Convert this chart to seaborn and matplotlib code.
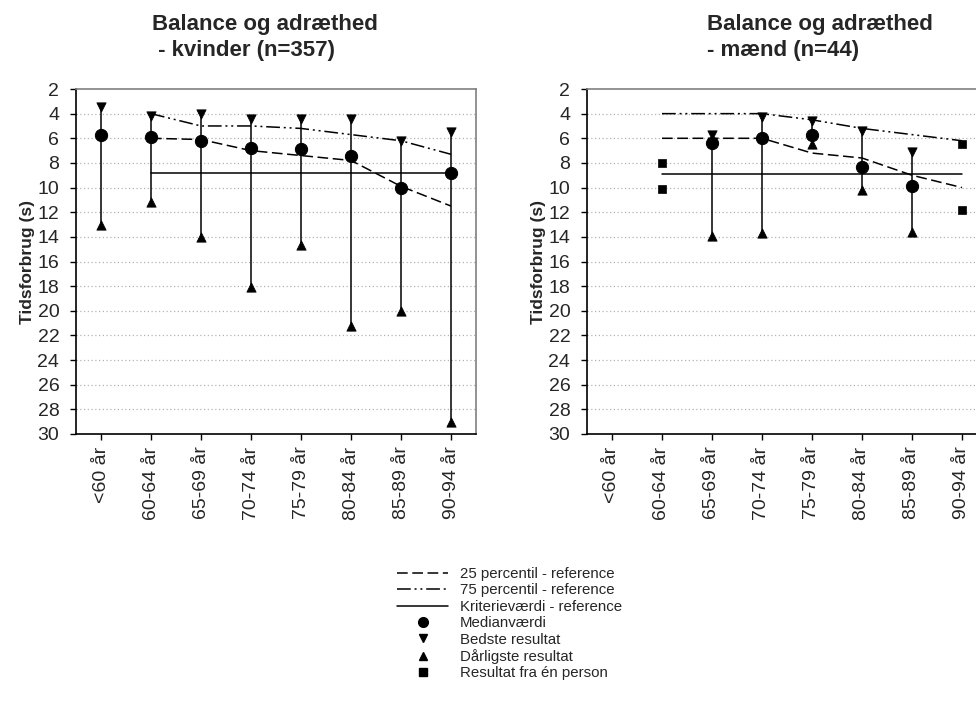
import numpy as np
import pandas as pd
import matplotlib
matplotlib.use("Agg")
import matplotlib.pyplot as plt
from matplotlib.lines import Line2D
import seaborn as sns

# Age groups on the x axis
categories = ["<60 år", "60-64 år", "65-69 år", "70-74 år",
              "75-79 år", "80-84 år", "85-89 år", "90-94 år"]
nan = np.nan

# Women (n=357), time in seconds
w_best = [3.5, 4.2, 4.0, 4.4, 4.4, 4.4, 6.2, 5.5]
w_median = [5.7, 5.9, 6.2, 6.8, 6.9, 7.4, 10.0, 8.8]
w_worst = [13.0, 11.2, 14.0, 18.1, 14.7, 21.2, 20.0, 29.0]
w_p25 = [nan, 6.0, 6.1, 7.0, 7.4, 7.8, 9.9, 11.5]
w_p75 = [nan, 4.0, 5.0, 5.0, 5.2, 5.7, 6.2, 7.3]
w_crit = [nan, 8.8, 8.8, 8.8, 8.8, 8.8, 8.8, 8.8]

# Men (n=44), time in seconds
m_best = [nan, nan, 5.7, 4.3, 4.6, 5.4, 7.1, nan]
m_median = [nan, nan, 6.4, 6.0, 5.7, 8.3, 9.9, nan]
m_worst = [nan, nan, 13.9, 13.7, 6.5, 10.2, 13.6, nan]
m_single_a = [nan, 8.0, nan, nan, nan, nan, nan, 6.5]
m_single_b = [nan, 10.1, nan, nan, nan, nan, nan, 11.8]
m_p25 = [nan, 6.0, 6.0, 6.0, 7.2, 7.6, 9.0, 10.0]
m_p75 = [nan, 4.0, 4.0, 4.0, 4.5, 5.2, 5.7, 6.2]
m_crit = [nan, 8.9, 8.9, 8.9, 8.9, 8.9, 8.9, 8.9]

y_ticks = list(range(2, 32, 2))

sns.set_theme(style="white")
plt.rcParams["font.family"] = ["Liberation Sans", "DejaVu Sans"]

DASH_25 = (7, 3)
DASH_75 = (9, 2.5, 1.3, 2.5, 1.3, 2.5)

W, H = 976, 705
fig = plt.figure(figsize=(W / 100, H / 100), dpi=100)
ax_w = fig.add_axes([76 / W, (H - 434) / H, 400 / W, 345 / H])
ax_m = fig.add_axes([587 / W, (H - 434) / H, 400 / W, 345 / H])

x = np.arange(len(categories))


def draw_panel(ax, best, median, worst, p25, p75, crit, singles=()):
    df = pd.DataFrame({"x": x, "best": best, "median": median, "worst": worst,
                       "p25": p25, "p75": p75, "crit": crit})

    # dotted horizontal gridlines
    for yv in y_ticks[1:-1]:
        ax.axhline(yv, color="#b4b4b4", lw=0.9, ls=(0, (1, 2)), zorder=0)

    # high-low lines from best to worst result
    hl = df.dropna(subset=["best", "worst"])
    ax.vlines(hl["x"], hl["best"], hl["worst"], color="black", lw=1.1, zorder=2)

    # reference lines
    sns.lineplot(data=df, x="x", y="crit", ax=ax, color="black", lw=1.1,
                 zorder=3, legend=False)
    sns.lineplot(data=df, x="x", y="p25", ax=ax, color="black", lw=1.1,
                 zorder=3, legend=False)
    ax.lines[-1].set_dashes(DASH_25)
    sns.lineplot(data=df, x="x", y="p75", ax=ax, color="black", lw=1.1,
                 zorder=3, legend=False)
    ax.lines[-1].set_dashes(DASH_75)

    # point markers
    sns.scatterplot(data=df, x="x", y="best", ax=ax, marker="v", s=45,
                    color="black", edgecolor="black", zorder=4, legend=False)
    sns.scatterplot(data=df, x="x", y="worst", ax=ax, marker="^", s=45,
                    color="black", edgecolor="black", zorder=4, legend=False)
    sns.scatterplot(data=df, x="x", y="median", ax=ax, marker="o", s=78,
                    color="black", edgecolor="black", zorder=5, legend=False)
    for s in singles:
        sns.scatterplot(x=x, y=s, ax=ax, marker="s", s=38, color="black",
                        edgecolor="black", zorder=4, legend=False)

    ax.set_xlim(-0.5, len(categories) - 0.5)
    ax.set_ylim(30, 2)
    ax.set_yticks(y_ticks)
    ax.set_yticklabels([str(v) for v in y_ticks], fontsize=14)
    ax.set_xticks(x)
    ax.set_xticklabels(categories, rotation=90, fontsize=14)
    ax.tick_params(axis="both", direction="out", length=4, width=1,
                   color="black", left=True, bottom=True)
    ax.tick_params(axis="y", pad=8)
    ax.tick_params(axis="x", pad=5)
    ax.set_xlabel("")
    ax.set_ylabel("Tidsforbrug (s)", fontsize=12.5, fontweight="bold",
                  labelpad=2)
    for side in ("top", "right"):
        ax.spines[side].set_color("#808080")
        ax.spines[side].set_linewidth(1.2)
        ax.spines[side].set_visible(True)
    for side in ("left", "bottom"):
        ax.spines[side].set_color("black")
        ax.spines[side].set_linewidth(1.2)
        ax.spines[side].set_visible(True)


draw_panel(ax_w, w_best, w_median, w_worst, w_p25, w_p75, w_crit)
draw_panel(ax_m, m_best, m_median, m_worst, m_p25, m_p75, m_crit,
           singles=(m_single_a, m_single_b))

# panel titles, two lines each, left aligned
title_kw = dict(ha="left", va="baseline", fontsize=16, fontweight="bold")
fig.text(152 / W, 1 - 30 / H, "Balance og adræthed", **title_kw)
fig.text(152 / W, 1 - 56 / H, " - kvinder (n=357)", **title_kw)
fig.text(707 / W, 1 - 30 / H, "Balance og adræthed", **title_kw)
fig.text(707 / W, 1 - 56 / H, "- mænd (n=44)", **title_kw)

handles = [
    Line2D([], [], color="black", lw=1.1, dashes=DASH_25),
    Line2D([], [], color="black", lw=1.1, dashes=DASH_75),
    Line2D([], [], color="black", lw=1.1),
    Line2D([], [], color="black", ls="none", marker="o", markersize=7),
    Line2D([], [], color="black", ls="none", marker="v", markersize=5.5),
    Line2D([], [], color="black", ls="none", marker="^", markersize=5.5),
    Line2D([], [], color="black", ls="none", marker="s", markersize=5.5),
]
labels = ["25 percentil - reference", "75 percentil - reference",
          "Kriterieværdi - reference", "Medianværdi", "Bedste resultat",
          "Dårligste resultat", "Resultat fra én person"]
fig.legend(handles, labels, loc="upper left",
           bbox_to_anchor=(397 / W, 1 - 567 / H), frameon=False,
           fontsize=10.8, handlelength=3.4, handletextpad=0.8,
           labelspacing=0.16, borderpad=0, borderaxespad=0)

fig.savefig("out.png", dpi=100)
